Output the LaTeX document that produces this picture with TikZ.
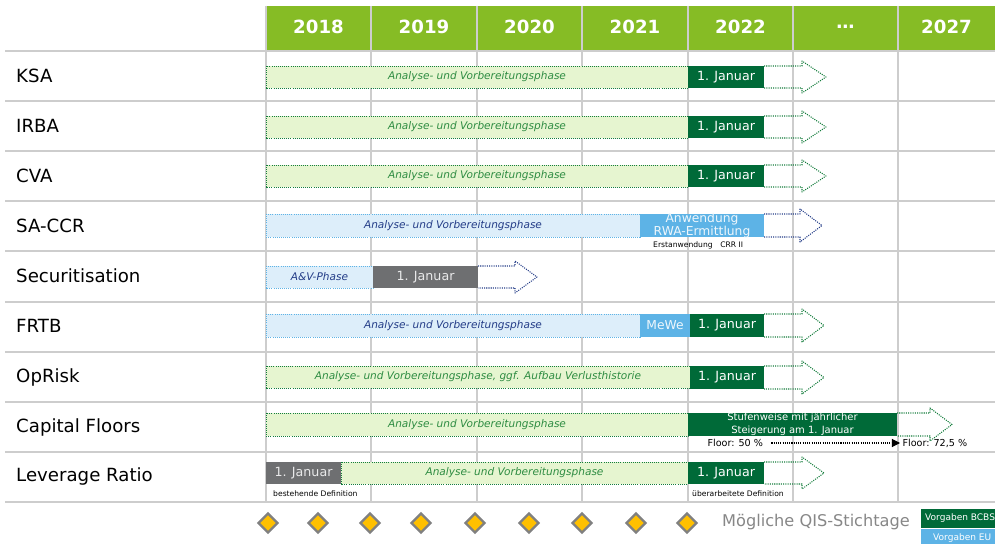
\documentclass[tikz,border=0pt]{standalone}
\usepackage{fontspec}
\setmainfont{DejaVu Sans}
\usetikzlibrary{arrows.meta, shapes.geometric}

\definecolor{headgreen}{RGB}{134,188,37}
\definecolor{bcbsgreen}{RGB}{0,106,56}
\definecolor{prepgreen}{RGB}{230,245,208}
\definecolor{textgreen}{RGB}{46,140,66}
\definecolor{dotgreen}{RGB}{20,125,60}
\definecolor{prepblue}{RGB}{221,238,250}
\definecolor{eublue}{RGB}{93,179,230}
\definecolor{textblue}{RGB}{35,60,135}
\definecolor{oldgray}{RGB}{110,111,113}
\definecolor{gridgray}{RGB}{205,205,205}
\definecolor{labelgray}{RGB}{135,135,135}
\definecolor{qisyellow}{RGB}{255,192,0}

% open dotted arrow after the start date
% #1 colour, #2 start x, #3 head x, #4 tip x, #5 top y, #6 bottom y
\newcommand{\openarrow}[6]{%
  \draw[#1, densely dotted, line width=0.9pt, line join=round]
    (#2,#5) -- (#3,#5) -- (#3,#5-5) -- (#4,{(#5+#6)/2}) -- (#3,#6+5) -- (#3,#6) -- (#2,#6);
}

\begin{document}
\begin{tikzpicture}[x=0.03cm, y=-0.03cm,
      grid/.style={draw=gridgray, line width=1.5pt},
      year/.style={text=white, font=\fontsize{15.5}{18}\selectfont\bfseries},
      topic/.style={anchor=west, inner sep=0pt, font=\fontsize{15.5}{18}\selectfont},
      greenprep/.style={draw=dotgreen, densely dotted, fill=prepgreen, line width=0.8pt},
      blueprep/.style={draw=eublue, densely dotted, fill=prepblue, line width=0.8pt},
      greentxt/.style={text=textgreen, font=\fontsize{9}{10}\selectfont\itshape},
      bluetxt/.style={text=textblue, font=\fontsize{9}{10}\selectfont\itshape},
      boxtxt/.style={text=white, font=\fontsize{10.8}{12}\selectfont},
      oldtxt/.style={text=white!85!oldgray, font=\fontsize{10.8}{12}\selectfont},
      eutxt/.style={text=white!90!eublue, align=center, font=\fontsize{10.5}{9.2}\selectfont},
      note/.style={anchor=west, inner sep=0pt, font=\fontsize{6.5}{8}\selectfont},
      floortxt/.style={anchor=west, inner sep=2pt, font=\fontsize{8.2}{10}\selectfont},
      qis/.style={diamond, draw=gray, fill=qisyellow, line width=2pt, inner sep=0pt, minimum size=17pt},
      legend/.style={anchor=west, inner sep=0pt, text=white, font=\fontsize{7.7}{9}\selectfont}]

  \useasboundingbox (0,0) rectangle (995,544);

  % header with the years
  \fill[headgreen] (266,6) rectangle (995,50);
  \foreach \x/\yr [count=\i] in {318.5/2018, 424/2019, 529.5/2020, 635/2021, 740.5/2022, 845.5/{…}, 946.5/2027}
    \node[year] (year\i) at (\x,27) {\yr};

  % grid
  \foreach \x in {266,371,477,582,688,793,898}
    \draw[grid] (\x,6) -- (\x,502);
  \foreach \y in {51,101,151,201,251,302,352,402,452,502}
    \draw[grid] (5,\y) -- (995,\y);

  % topics
  \node[topic] (ksa) at (16,76) {KSA};
  \node[topic] (irba) at (16,126) {IRBA};
  \node[topic] (cva) at (16,176) {CVA};
  \node[topic] (saccr) at (16,226) {SA-CCR};
  \node[topic] (sec) at (16,276) {Securitisation};
  \node[topic] (frtb) at (16,326) {FRTB};
  \node[topic] (oprisk) at (16,377) {OpRisk};
  \node[topic] (floors) at (16,427) {Capital Floors};
  \node[topic] (lr) at (16,476) {Leverage Ratio};

  % KSA, IRBA, CVA
  \foreach \n/\t/\b in {ksa/66/88, irba/116/138, cva/165/187} {
    \draw[greenprep] (266,\t) rectangle (688,\b) node[midway, greentxt] (\n prep) {Analyse- und Vorbereitungsphase};
    \openarrow{dotgreen}{764}{802}{826}{\t}{\b}
    \fill[bcbsgreen] (688,\t) rectangle (764,\b) node[midway, boxtxt] (\n start) {1. Januar};
  }

  % SA-CCR
  \draw[blueprep] (266,214) rectangle (640,237) node[midway, bluetxt] (saccrprep) {Analyse- und Vorbereitungsphase};
  \openarrow{textblue}{764}{800}{822}{214}{237}
  \fill[eublue] (640,214) rectangle (764,237) node[midway, eutxt] (saccrstart) {Anwendung\\RWA-Ermittlung};
  \node[note] (saccrnote) at (653,245) {Erstanwendung\quad CRR II};

  % Securitisation
  \draw[blueprep] (266,266) rectangle (373,288) node[midway, bluetxt] (secprep) {A\&V-Phase};
  \openarrow{textblue}{478}{515}{537}{266}{288}
  \fill[oldgray] (373,266) rectangle (478,288) node[midway, oldtxt] (secstart) {1. Januar};

  % FRTB
  \draw[blueprep] (266,314) rectangle (640,337) node[midway, bluetxt] (frtbprep) {Analyse- und Vorbereitungsphase};
  \openarrow{dotgreen}{764}{802}{824}{314}{337}
  \fill[eublue] (640,314) rectangle (690,337) node[midway, eutxt] (mewe) {MeWe};
  \fill[bcbsgreen] (690,314) rectangle (764,337) node[midway, boxtxt] (frtbstart) {1. Januar};

  % OpRisk
  \draw[greenprep] (266,366) rectangle (690,388) node[midway, greentxt] (opriskprep) {Analyse- und Vorbereitungsphase, ggf. Aufbau Verlusthistorie};
  \openarrow{dotgreen}{764}{802}{824}{366}{389}
  \fill[bcbsgreen] (690,366) rectangle (764,389) node[midway, boxtxt] (opriskstart) {1. Januar};

  % Capital Floors
  \draw[greenprep] (266,413) rectangle (688,436) node[midway, greentxt] (floorsprep) {Analyse- und Vorbereitungsphase};
  \openarrow{dotgreen}{897}{930}{952}{413}{436}
  \fill[bcbsgreen] (688,413) rectangle (897,436) node[midway, align=center, text=white, font=\fontsize{8.5}{11.3}\selectfont] (floorsstart) {Stufenweise mit jährlicher\\Steigerung am 1. Januar};
  \node[floortxt] (floorlow) at (705,443) {Floor: 50 \%};
  \node[floortxt] (floorhigh) at (900,443) {Floor: 72,5 \%};
  \draw[densely dotted, line width=0.9pt, -{Triangle[length=7pt, width=7pt]}, shorten <=5pt] (floorlow) -- (floorhigh);

  % Leverage Ratio
  \draw[greenprep] (341,462) rectangle (688,484) node[midway, greentxt] (lrprep) {Analyse- und Vorbereitungsphase};
  \openarrow{dotgreen}{764}{802}{824}{462}{484}
  \fill[oldgray] (266,462) rectangle (341,484) node[midway, oldtxt] (lrold) {1. Januar};
  \fill[bcbsgreen] (688,462) rectangle (764,484) node[midway, boxtxt] (lrstart) {1. Januar};
  \node[note] (lroldnote) at (273,494) {bestehende Definition};
  \node[note] (lrnewnote) at (692,494) {überarbeitete Definition};

  % QIS dates
  \foreach \x [count=\i] in {268,318,370,421,475,529,582,636,687}
    \node[qis] (qis\i) at (\x,523) {};
  \node[anchor=west, inner sep=0pt, text=labelgray, font=\fontsize{13.8}{16}\selectfont] (qislabel) at (722,522) {Mögliche QIS-Stichtage};

  % legend
  \fill[bcbsgreen] (921,509) rectangle (1000,528);
  \node[legend] (bcbs) at (925,518.5) {Vorgaben BCBS};
  \fill[eublue] (921,529) rectangle (1000,548);
  \node[legend] (eu) at (933,538) {Vorgaben EU};
\end{tikzpicture}
\end{document}
